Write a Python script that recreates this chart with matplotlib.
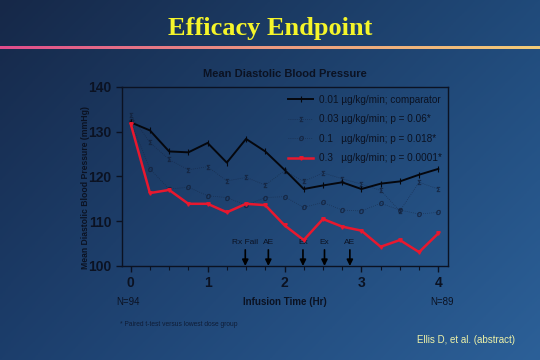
import numpy as np
import matplotlib
matplotlib.use('Agg')
import matplotlib.pyplot as plt
from matplotlib.colors import LinearSegmentedColormap

# Data
hours = [0, 0.25, 0.5, 0.75, 1.0, 1.25, 1.5, 1.75, 2.0, 2.25, 2.5, 2.75, 3.0, 3.25, 3.5, 3.75, 4.0]
dose_001 = [132.1, 130.3, 125.6, 125.4, 127.5, 123.1, 128.4, 125.6, 121.5, 117.2, 118.0, 118.7, 117.2, 118.4, 118.9, 120.4, 121.7]
dose_003 = [133.7, 127.6, 123.8, 121.5, 122.2, 119.0, 119.8, 118.1, 121.3, 118.9, 120.8, 119.5, 118.3, 116.9, 112.3, 118.7, 117.2]
dose_01 = [132.3, 121.7, 117.2, 117.6, 115.7, 115.3, 113.6, 115.3, 115.5, 113.1, 114.2, 112.5, 112.3, 114.0, 112.5, 111.6, 112.0]
dose_03 = [131.8, 116.3, 117.0, 113.9, 113.9, 112.0, 113.9, 113.6, 109.1, 105.8, 110.5, 108.8, 107.9, 104.3, 105.8, 103.1, 107.3]

legend_labels = ['0.01 µg/kg/min; comparator',
                 '0.03 µg/kg/min; p = 0.06*',
                 '0.1   µg/kg/min; p = 0.018*',
                 '0.3   µg/kg/min; p = 0.0001*']

event_times = [1.49, 1.79, 2.24, 2.52, 2.85]
event_labels = ['Rx Fail', 'AE', 'Ex', 'Ex', 'AE']

plt.rcParams['font.family'] = ['Liberation Sans', 'DejaVu Sans']
dark = '#0b1222'

fig = plt.figure(figsize=(5.4, 3.6), dpi=100)

# slide background gradient
bg = fig.add_axes([0, 0, 1, 1], zorder=-10)
c_tl = np.array([22, 40, 72]) / 255
c_tr = np.array([32, 74, 122]) / 255
c_bl = np.array([28, 62, 108]) / 255
c_br = np.array([44, 96, 152]) / 255
u = np.linspace(0, 1, 200)[None, :, None]
v = np.linspace(0, 1, 200)[:, None, None]
img = (c_tl * (1 - u) * (1 - v) + c_tr * u * (1 - v) + c_bl * (1 - u) * v + c_br * u * v)
bg.imshow(img, aspect='auto', extent=[0, 1, 1, 0])
# title underline
line_cmap = LinearSegmentedColormap.from_list('ul', ['#e04c8c', '#ec9a80', '#f3cc78'])
bg.imshow(np.linspace(0, 1, 300)[None, :], cmap=line_cmap, aspect='auto',
          extent=[0, 1, 49 / 360, 46 / 360])
bg.set_xlim(0, 1)
bg.set_ylim(1, 0)
bg.axis('off')

fig.text(0.5, 1 - 28 / 360, 'Efficacy Endpoint', ha='center', va='center',
         fontsize=19, fontweight='bold', color='#f5f52a', family='Liberation Serif')

ax = fig.add_axes([122 / 540, 1 - 266 / 360, 326 / 540, 179 / 360])
ax.set_facecolor('none')

ax.plot(hours, dose_001, color='#05070d', lw=1.4, marker='|', ms=4, mew=0.8,
        label=legend_labels[0], zorder=4)
ax.plot(hours, dose_003, color='#14213a', lw=0.5, ls=(0, (1, 2)), marker='$\\Sigma$',
        ms=3.5, mew=0.3, alpha=0.75, label=legend_labels[1], zorder=3)
ax.plot(hours, dose_01, color='#14213a', lw=0.5, ls=(0, (1, 2)), marker='$o$',
        ms=3.5, mew=0.3, alpha=0.75, label=legend_labels[2], zorder=3)
ax.plot(hours, dose_03, color='#e8182e', lw=1.8, marker='v', ms=2.5,
        label=legend_labels[3], zorder=5)

for t, lab in zip(event_times, event_labels):
    ax.annotate('', xy=(t, 100), xytext=(t, 103.6),
                arrowprops=dict(arrowstyle='-|>', color='black', lw=1.2,
                                mutation_scale=9, shrinkA=0, shrinkB=0))
    ax.text(t, 104.4, lab, ha='center', va='bottom', fontsize=6, color=dark)

ax.set_xlim(-0.113, 4.126)
ax.set_ylim(100, 140)
ax.set_xticks([0, 1, 2, 3, 4])
ax.set_xticks(np.arange(0, 4.01, 0.25), minor=True)
ax.set_yticks([100, 110, 120, 130, 140])
ax.tick_params(axis='both', which='major', labelsize=10, colors=dark, length=4, width=1)
ax.tick_params(axis='x', which='minor', length=3, width=0.8, colors=dark)
for lab in ax.get_xticklabels() + ax.get_yticklabels():
    lab.set_fontweight('bold')
for sp in ax.spines.values():
    sp.set_color(dark)
    sp.set_linewidth(1)

ax.set_ylabel('Mean Diastolic Blood Pressure (mmHg)', fontsize=6.2,
              fontweight='bold', color=dark)
ax.yaxis.set_label_coords(-0.098, 0.44)
ax.set_title('Mean Diastolic Blood Pressure', fontsize=8, fontweight='bold',
             color=dark, pad=7)

leg = ax.legend(loc='upper right', bbox_to_anchor=(1.0, 0.99), frameon=False,
                fontsize=7.2, labelspacing=0.95, handlelength=2.5,
                handletextpad=0.6, borderaxespad=0.2)
for txt in leg.get_texts():
    txt.set_color(dark)

fig.text(116 / 540, 1 - 302 / 360, 'N=94', fontsize=7, color=dark, va='center')
fig.text(285 / 540, 1 - 302 / 360, 'Infusion Time (Hr)', fontsize=7,
         fontweight='bold', color=dark, ha='center', va='center')
fig.text(430 / 540, 1 - 302 / 360, 'N=89', fontsize=7, color=dark, va='center')
fig.text(120 / 540, 1 - 324 / 360, '* Paired t-test versus lowest dose group',
         fontsize=4.8, color='#0f1d36', va='center')
fig.text(515 / 540, 1 - 340 / 360, 'Ellis D, et al. (abstract)', fontsize=7,
         color='#eef2a8', ha='right', va='center')

fig.savefig('out.png', dpi=100)
